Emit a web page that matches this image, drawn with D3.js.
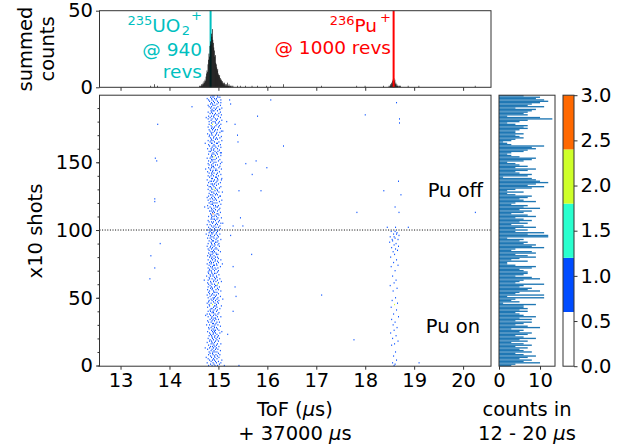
<!DOCTYPE html>
<html>
<head>
<meta charset="utf-8">
<script src="https://cdn.jsdelivr.net/npm/d3@7"></script>
<style>
  body { margin: 0; background: #fff; }
  svg { display: block; }
  text { font-family: "DejaVu Sans", sans-serif; }
</style>
</head>
<body>
<div id="chart"></div>
<script>
// ---- data ----

// UO2 band hits per shot row (index = row, 0..199). token = hundredths above 14 µs, ":n" = counts in that cell
const uo2Rows = [
  "86 97 79 92", "90 101 83", "88 76 95 104", "93 84 99", "81 91 87 106", "96 89 78", "85 100 92 74", "91 83 97", "79 94 88 102", "87 99 82",
  "92 80 96 88", "84 103 90", "98 86 77 93", "89 95 81 72", "83 92 100 87", "95 79 90", "88 104 84 97", "91 76 86", "99 85 93 81", "82 96 89",
  "94 87 78 101", "86 97 91", "80 92 99 85", "96 83 88", "89 102 81 93", "77 91 87 106", "93 85 100 90", "97 80 88", "84 95 91 79", "90 103 86",
  "92 81 98 75", "87 94 89", "79 96 84 101", "91 86 77", "99 88 82 94", "85 93 90", "78 97 104 86", "94 83 89 73", "81 92 76 98", "89 86 100",
  "83 95 88 78", "97 90 82", "86 102 93 84", "77 89 96", "91 81 94 105", "95 87:2 80", "84 92 99 76", "89 79 97", "80 100 86 93", "96 84 89 108",
  "88 98 78 91", "93 82 103", "85 95 90 76", "99 87 81", "90 79 96 92", "81 89 104", "94 86 77 99", "87 97 83", "91 78 101 85", "82 93 96",
  "97:2 86 79 91", "84 99 77", "89 83 94 105", "78 90 97 70", "93 81 86 102", "96 91 80", "83 95 88 75", "88 100 82", "94 79 91 86", "85 97 78",
  "91 84 99 80", "81 94 88", "98 86 78 92", "87 103 83", "80 91 96 89", "95 84 76 107", "89 99 85 81", "83 92 97", "93 78 87 104", "99 85 90",
  "81 93 97 86", "90 83 77", "86 98 95 82", "94 88 79", "84 103 91 87", "89 80 99", "96 85 78 92", "82 94 87", "90 101 83 76", "86 92 98",
  "78 91 85 100", "93 84 96", "98 87 80 89", "85 94 104", "90 82 77 96", "99 88 84", "83 97 91 79", "94 86 102 74", "88 80 95 85", "97 90 82",
  "86 98 77 93 84", "91 82 103", "79 94 88 99", "102 85 90", "82 93 76 97", "95 87 104 108", "89 80 99 85", "93 101 78", "84 96 88 91", "98 85 105",
  "90 79 95 86", "85 100 92", "96 83 88:3 98", "87 91 103", "81 97 89 84", "100 86 93", "78 90 102 85", "94 82 97 71", "89 99 77 93", "84 87 104",
  "96 88 80 92", "86 101 83", "90 78 95 106", "82 93 87", "99 85 91 76", "88 103 79 102", "93 83 97 86", "80 95 90", "85 100 88 107", "97 82 92",
  "86 96 78 90:2", "101 85 93", "83 90 104 80", "95 88 77", "91 84 99 87", "79 94 103", "89 85 96 82", "98 91 76 105", "85 97 87 106", "93 81 95",
  "84 99 89 78", "95 86 104", "90 80 97 85", "87 101 77", "96 88 83 93", "82 94 105 73", "90 85 100 79", "102 89 86", "80 93 97 85", "88 103 78",
  "94 83 90 106", "86 99 79", "92 85 102 88", "82 95 76", "99 87 90:2 84", "85 104 93", "90 79 97 86", "95 88 105 103", "83 92 80 98", "89 101 85",
  "97 84 90 77", "86 94 104", "81 92 88 99", "90 103 79", "85 97 86 95 72", "100 82 91", "88 106 84 78", "93 85 97", "83 95 89 102", "90 80 105",
  "86 99 93 81", "95 85 77", "88 102 84 96", "82 91 105 108", "97 87 80 93", "85 103 89", "91 78 99 86", "101 94 84", "80 96 87:2 104", "93 85 99",
  "88 101 80 92", "84 95 106", "97 86 78 93", "90 82 103 74", "85 99 89 79", "96 91 105", "82 93 87 100", "103 85 78", "90 97 84 88", "86 102 93 101",
  "95 83 90 106", "85 98 80", "92 88 103 78", "83 96 87", "99 85 91 104", "89 81 97", "94 104 86 79", "85 95 91 76", "98 83 102 88", "90 86 97"
];

// 236Pu band hits: [shot row, hundredths above 18 µs, counts]
const puHits = [
  [99, 52, 1], [99, 60, 1], [98, 64, 1], [97, 57, 1], [97, 63, 1], [96, 68, 1], [95, 50, 1], [95, 58, 1], [94, 60, 1],
  [93, 66, 1], [93, 54, 1], [92, 55, 1], [91, 49, 1], [90, 62, 1], [89, 58, 1], [88, 67, 1], [87, 53, 1], [86, 61, 1],
  [85, 65, 1], [84, 56, 1], [82, 59, 1], [80, 51, 1], [78, 63, 1], [76, 57, 1], [74, 66, 1], [73, 52, 1], [70, 60, 1],
  [66, 55, 1], [63, 62, 1], [61, 58, 1], [59, 50, 1], [57, 64, 1], [55, 56, 1], [50, 61, 1], [48, 54, 1], [46, 65, 1],
  [45, 59, 2], [43, 52, 1], [41, 63, 1], [38, 57, 1], [36, 67, 1], [34, 53, 1], [32, 60, 1], [30, 56, 1], [28, 64, 1],
  [26, 58, 1], [24, 51, 1], [22, 62, 1], [20, 55, 1], [18, 66, 1], [16, 59, 1], [15, 53, 1], [10, 61, 1], [7, 57, 1],
  [4, 63, 1], [2, 55, 1], [1, 60, 1], [0, 58, 1],
  [102, 44, 1], [102, 61, 1], [102, 87, 1], [113, 68, 1], [117, 60, 1], [126, 72, 1], [129, 37, 1], [136, 67, 1],
  [179, 69, 1], [182, 69, 1], [194, 63, 1]
];

// stray hits: [shot row, ToF µs]
const strayHits = [
  [191, 14.45], [196, 16.06], [196, 15.22], [193, 15.24], [184, 15.79], [178, 13.75], [178, 15.33], [180, 15.16],
  [170, 15.38], [162, 16.32], [165, 15.39], [153, 13.70], [151, 13.73], [151, 15.76], [149, 15.55], [146, 15.98],
  [141, 15.68], [129, 15.41], [129, 15.86], [123, 13.69], [121, 13.69], [109, 15.44], [103, 15.29], [103, 15.49],
  [96, 15.24], [90, 13.80], [81, 13.61], [72, 13.69], [64, 13.59], [82, 15.67], [73, 15.29], [58, 15.33],
  [51, 15.35], [40, 15.29], [0, 15.41], [23, 15.18], [0, 15.11], [185, 17.99], [113, 17.82], [113, 20.24],
  [52, 17.10], [19, 17.76], [2, 19.09]
];

// summed counts, 0.01 µs bins
const histUo2Start = 14.60;
const histUo2 = [0, 1, 0, 1, 1, 2, 1, 2, 3, 2, 4, 3, 5, 4, 7, 9, 11, 10, 15, 18,
  22, 20, 27, 30, 28, 35, 33, 38, 31, 29, 26, 24, 20, 21, 16, 15, 13, 11, 12, 9,
  8, 7, 8, 5, 6, 4, 5, 3, 4, 2, 3, 2, 3, 1, 2, 1, 2, 1, 3, 1,
  1, 2, 1, 0, 1, 1, 0, 1, 0, 1];
const histPuStart = 18.48;
const histPu = [1, 0, 1, 2, 1, 3, 2, 4, 5, 3, 6, 4, 5, 2, 3, 1, 2, 1, 1, 0, 1, 1, 0, 1];
const histStray = [[13.61, 1], [13.69, 2], [13.75, 1], [15.38, 1], [15.44, 1], [15.55, 1], [15.68, 1], [15.79, 1],
  [15.98, 1], [16.06, 1], [16.32, 2], [17.10, 1], [17.82, 1], [17.99, 1], [18.37, 1], [18.87, 1], [19.09, 1], [20.24, 1]];

// counts in 12 - 20 µs per shot row, listed from the top row (199) down to row 0
const countsFromTop = [
  6, 10, 9, 11, 12, 10, 8, 7, 11, 4, 9, 8, 7, 6, 7, 2, 10, 13, 7, 5,
  2, 4, 7, 6, 7, 5, 4, 4, 6, 4, 5, 6, 4, 3, 1, 2, 3, 11, 8, 9,
  7, 6, 3, 2, 3, 5, 9, 8, 6, 2, 4, 5, 7, 4, 9, 7, 4, 5, 8, 7,
  1, 8, 9, 10, 12, 9, 7, 11, 8, 4, 2, 6, 2, 4, 8, 7, 5, 6, 9, 4,
  3, 7, 6, 10, 5, 8, 6, 3, 7, 9, 4, 6, 8, 5, 7, 3, 6, 9, 4, 7,
  4, 11, 7, 12, 12, 2, 6, 5, 7, 6, 9, 8, 11, 4, 3, 8, 9, 4, 7, 9,
  5, 3, 7, 2, 2, 4, 9, 8, 5, 6, 7, 7, 6, 4, 8, 10, 6, 5, 4, 11,
  6, 5, 8, 7, 10, 5, 4, 11, 2, 11, 4, 3, 5, 1, 9, 6, 6, 7, 5, 7,
  4, 5, 6, 9, 5, 8, 4, 8, 6, 4, 7, 10, 3, 6, 5, 8, 7, 4, 6, 9,
  5, 7, 3, 6, 8, 4, 7, 5, 6, 8, 4, 6, 9, 7, 5, 8, 6, 10, 4, 3
];

const uo2Line = 14.84, puLine = 18.58;
const xTicks = [13, 14, 15, 16, 17, 18, 19, 20];
const yTicks = [0, 50, 100, 150];
const cbTicks = [0, 0.5, 1, 1.5, 2, 2.5, 3];
const cbLevels = [0.6, 1.2, 1.8, 2.4];
const cbColors = ['#ffffff', '#004cff', '#29ffce', '#ceff29', '#ff6800'];

// ---- build cells ----
const cells = [];
uo2Rows.forEach((row, shot) => {
  row.split(' ').forEach(tok => {
    const [c, n] = tok.split(':');
    cells.push({ shot, tof: 14 + (+c) / 100, n: n ? +n : 1 });
  });
});
puHits.forEach(([shot, c, n]) => cells.push({ shot, tof: 18 + c / 100, n }));
strayHits.forEach(([shot, tof]) => cells.push({ shot, tof, n: 1 }));

const hist = [];
histUo2.forEach((v, i) => hist.push({ tof: histUo2Start + i * 0.01, v }));
histPu.forEach((v, i) => hist.push({ tof: histPuStart + i * 0.01, v }));
histStray.forEach(([tof, v]) => hist.push({ tof, v }));

// ---- layout ----
const W = 633, H = 447;
const svg = d3.select('#chart').append('svg').attr('width', W).attr('height', H);
const FS = 19.5;
const FA = 18.5; // annotation size
const AX = '#333';

const x = d3.scaleLinear().domain([12.57, 20.57]).range([99.5, 491]);
const yShot = d3.scaleLinear().domain([-0.5, 199.5]).range([366.2, 95.2]);
const yHist = d3.scaleLinear().domain([0, 50]).range([87.3, 10.7]);
const xBar = d3.scaleLinear().domain([0, 13.65]).range([499, 555]);
const yCb = d3.scaleLinear().domain([0, 3]).range([366.2, 95.2]);
const color = d3.scaleThreshold().domain(cbLevels).range(cbColors);

function styleAxis(sel) {
  sel.select('.domain').remove();
  sel.selectAll('line').attr('stroke', AX);
  sel.selectAll('text').attr('fill', '#000').attr('font-size', FS).attr('font-family', 'DejaVu Sans');
}

// ---- top histogram ----
const gh = svg.append('g');
gh.append('line').attr('x1', x(uo2Line)).attr('x2', x(uo2Line)).attr('y1', yHist.range()[1]).attr('y2', yHist.range()[0])
  .attr('stroke', '#00bfbf').attr('stroke-width', 2);
gh.selectAll('rect.h').data(hist).enter().append('rect')
  .attr('x', d => x(d.tof)).attr('width', d => x(d.tof + 0.01) - x(d.tof) + 0.15)
  .attr('y', d => yHist(d.v)).attr('height', d => yHist(0) - yHist(d.v))
  .attr('fill', '#000');
gh.append('line').attr('x1', x(puLine)).attr('x2', x(puLine)).attr('y1', yHist.range()[1]).attr('y2', yHist.range()[0])
  .attr('stroke', '#ff0000').attr('stroke-width', 2);
gh.append('rect').attr('x', 99.5).attr('y', 10.7).attr('width', 491 - 99.5).attr('height', 87.3 - 10.7)
  .attr('fill', 'none').attr('stroke', AX);
gh.append('g').attr('transform', 'translate(99.5,0)')
  .call(d3.axisLeft(yHist).tickValues([0, 50]).tickSize(3.5).tickPadding(3)).call(styleAxis);
gh.append('g').attr('transform', 'translate(0,87.3)')
  .call(d3.axisBottom(x).tickValues(xTicks).tickSize(3.5).tickFormat('')).call(styleAxis);

// annotations
const uoT = svg.append('text').attr('text-anchor', 'end').attr('fill', '#00bfbf').attr('font-size', FA);
const t1 = uoT.append('tspan').attr('x', 202).attr('y', 32);
t1.append('tspan').attr('font-size', 13).attr('dy', -7).text('235');
t1.append('tspan').attr('dy', 7).text('UO');
t1.append('tspan').attr('font-size', 13).attr('dx', 1.5).attr('dy', 3).text('2');
t1.append('tspan').attr('font-size', 13).attr('dx', 1).attr('dy', -15).text('+');
uoT.append('tspan').attr('x', 202).attr('y', 56).text('@ 940');
uoT.append('tspan').attr('x', 202).attr('y', 78).text('revs');

const puT = svg.append('text').attr('text-anchor', 'end').attr('fill', '#ff0000').attr('font-size', FA);
const p1 = puT.append('tspan').attr('x', 391).attr('y', 32);
p1.append('tspan').attr('font-size', 13).attr('dy', -7).text('236');
p1.append('tspan').attr('dy', 7).text('Pu');
p1.append('tspan').attr('font-size', 13).attr('dx', 3).attr('dy', -10).text('+');
puT.append('tspan').attr('x', 391).attr('y', 54).text('@ 1000 revs');

svg.append('text').attr('transform', 'translate(40,49) rotate(-90)').attr('text-anchor', 'middle').attr('font-size', FS)
  .call(t => {
    t.append('tspan').attr('x', 0).attr('y', -8).text('summed');
    t.append('tspan').attr('x', 0).attr('y', 14).text('counts');
  });

// ---- main 2D histogram ----
const gm = svg.append('g');
const binW = 0.02;
gm.selectAll('rect.c').data(cells).enter().append('rect')
  .attr('x', d => x(d.tof)).attr('width', d => x(d.tof + binW) - x(d.tof))
  .attr('y', d => yShot(d.shot + 0.5)).attr('height', d => yShot(d.shot - 0.5) - yShot(d.shot + 0.5))
  .attr('fill', d => color(d.n));
gm.append('line').attr('x1', 99.5).attr('x2', 491).attr('y1', yShot(100)).attr('y2', yShot(100))
  .attr('stroke', '#000').attr('stroke-width', 1).attr('stroke-dasharray', '1,1.6');
gm.append('rect').attr('x', 99.5).attr('y', 95.2).attr('width', 491 - 99.5).attr('height', 366.2 - 95.2)
  .attr('fill', 'none').attr('stroke', AX);
gm.append('g').attr('transform', 'translate(0,366.2)')
  .call(d3.axisBottom(x).tickValues(xTicks).tickSize(3.5).tickPadding(3).tickFormat(d3.format('d'))).call(styleAxis);
gm.append('g').attr('transform', 'translate(99.5,0)')
  .call(d3.axisLeft(yShot).tickValues(d3.range(0, 200, 10)).tickSize(2).tickFormat('')).call(styleAxis);
gm.append('g').attr('transform', 'translate(99.5,0)')
  .call(d3.axisLeft(yShot).tickValues(yTicks).tickSize(3.5).tickPadding(3)).call(styleAxis);

gm.append('text').attr('x', 483).attr('y', 197).attr('text-anchor', 'end').attr('font-size', FS).text('Pu off');
gm.append('text').attr('x', 480).attr('y', 333).attr('text-anchor', 'end').attr('font-size', FS).text('Pu on');

svg.append('text').attr('transform', 'translate(42,231) rotate(-90)').attr('text-anchor', 'middle')
  .attr('font-size', FS).text('x10 shots');
svg.append('text').attr('x', 295).attr('text-anchor', 'middle').attr('font-size', FS)
  .call(t => {
    const a = t.append('tspan').attr('x', 295).attr('y', 416);
    a.append('tspan').text('ToF (');
    a.append('tspan').attr('font-style', 'italic').text('µ');
    a.append('tspan').text('s)');
    const b = t.append('tspan').attr('x', 295).attr('y', 440);
    b.append('tspan').text('+ 37000 ');
    b.append('tspan').attr('font-style', 'italic').text('µ');
    b.append('tspan').text('s');
  });

// ---- per-shot counts ----
const gb = svg.append('g');
gb.selectAll('rect.b').data(countsFromTop).enter().append('rect')
  .attr('x', xBar(0)).attr('width', d => xBar(d) - xBar(0))
  .attr('y', (d, i) => yShot(199 - i + 0.5)).attr('height', yShot(0) - yShot(1))
  .attr('fill', '#1f77b4');
gb.append('rect').attr('x', 499).attr('y', 95.2).attr('width', 555 - 499).attr('height', 366.2 - 95.2)
  .attr('fill', 'none').attr('stroke', AX);
gb.append('g').attr('transform', 'translate(0,366.2)')
  .call(d3.axisBottom(xBar).tickValues([0, 10]).tickSize(3.5).tickPadding(3)).call(styleAxis);
svg.append('text').attr('text-anchor', 'middle').attr('font-size', FS)
  .call(t => {
    t.append('tspan').attr('x', 527).attr('y', 416).text('counts in');
    const b = t.append('tspan').attr('x', 527).attr('y', 440);
    b.append('tspan').text('12 - 20 ');
    b.append('tspan').attr('font-style', 'italic').text('µ');
    b.append('tspan').text('s');
  });

// ---- colorbar ----
const gc = svg.append('g');
const cbEdges = [0].concat(cbLevels, [3]);
gc.selectAll('rect.cb').data(cbColors).enter().append('rect')
  .attr('x', 563).attr('width', 11)
  .attr('y', (d, i) => yCb(cbEdges[i + 1])).attr('height', (d, i) => yCb(cbEdges[i]) - yCb(cbEdges[i + 1]))
  .attr('fill', d => d);
gc.append('rect').attr('x', 563).attr('y', 95.2).attr('width', 11).attr('height', 366.2 - 95.2)
  .attr('fill', 'none').attr('stroke', AX);
gc.append('g').attr('transform', 'translate(574,0)')
  .call(d3.axisRight(yCb).tickValues(cbTicks).tickSize(3.5).tickPadding(3).tickFormat(d3.format('.1f'))).call(styleAxis);
</script>
</body>
</html>
